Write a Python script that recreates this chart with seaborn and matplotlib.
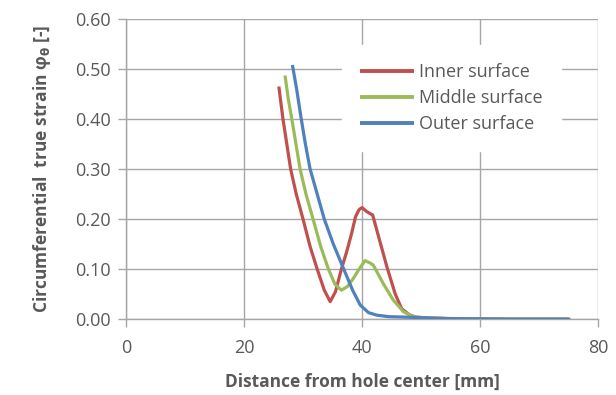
import matplotlib
matplotlib.use("Agg")
import matplotlib.pyplot as plt
import seaborn as sns
import pandas as pd

# Circumferential true strain along the radial distance from the hole centre
inner_x = [25.9, 26.6, 27.9, 28.85, 30.0, 31.2, 32.4, 33.6, 34.6, 35.5, 36.5, 37.4, 38.2,
           38.9, 39.5, 40.0, 40.8, 41.8, 42.8, 44.2, 45.6, 46.7, 48.1, 49.2, 52.0, 55.0,
           60.0, 65.0, 70.0, 75.0]
inner_y = [0.465, 0.400, 0.300, 0.250, 0.200, 0.145, 0.100, 0.058, 0.035, 0.055, 0.100, 0.135,
           0.170, 0.205, 0.219, 0.223, 0.215, 0.208, 0.165, 0.105, 0.051, 0.021, 0.008, 0.004,
           0.002, 0.001, 0.0005, 0.0, 0.0, 0.0]

middle_x = [26.95, 27.5, 28.1, 29.5, 30.5, 31.7, 33.0, 34.3, 35.4, 36.5, 37.5, 38.5, 39.5,
            40.5, 41.4, 41.9, 43.6, 45.3, 47.0, 48.7, 51.0, 55.0, 60.0, 65.0, 70.0, 75.0]
middle_y = [0.487, 0.440, 0.400, 0.300, 0.250, 0.200, 0.145, 0.100, 0.070, 0.058, 0.065, 0.081,
            0.100, 0.117, 0.112, 0.108, 0.071, 0.038, 0.015, 0.005, 0.002, 0.001, 0.0005, 0.0,
            0.0, 0.0]

outer_x = [28.2, 28.9, 29.7, 30.4, 31.2, 32.4, 33.6, 35.1, 36.9, 38.4, 39.7, 41.1, 42.5,
           44.5, 47.5, 52.0, 56.0, 60.0, 65.0, 70.0, 75.3]
outer_y = [0.508, 0.461, 0.400, 0.350, 0.300, 0.250, 0.200, 0.151, 0.100, 0.058, 0.028, 0.013,
           0.008, 0.005, 0.004, 0.002, 0.001, 0.0005, 0.0, 0.0, 0.0]

series_names = ["Inner surface", "Middle surface", "Outer surface"]
series_colors = ["#C0504D", "#9BBB59", "#4F81BD"]

x_ticks = [0, 20, 40, 60, 80]
y_ticks = [0.0, 0.1, 0.2, 0.3, 0.4, 0.5, 0.6]

frames = []
for name, xs, ys in zip(series_names, [inner_x, middle_x, outer_x], [inner_y, middle_y, outer_y]):
    frames.append(pd.DataFrame({"distance": xs, "strain": ys, "surface": name}))
df = pd.concat(frames, ignore_index=True)

sns.set_style("white")
plt.rcParams["font.family"] = ["Open Sans", "DejaVu Sans"]
plt.rcParams["mathtext.fontset"] = "dejavusans"

text_gray = "#595959"
grid_gray = "#A6A6A6"

fig = plt.figure(figsize=(6.16, 3.95), dpi=100)
ax = fig.add_axes([0.2045, 0.192, 0.7665, 0.760])

sns.lineplot(data=df, x="distance", y="strain", hue="surface", hue_order=series_names,
             palette=series_colors, sort=False, estimator=None, linewidth=2.3, ax=ax,
             solid_capstyle="butt", solid_joinstyle="round", zorder=3)

ax.set_xlim(0, 80)
ax.set_ylim(0, 0.6)
ax.set_xticks(x_ticks)
ax.set_yticks(y_ticks)
ax.set_xticklabels([f"{t:d}" for t in x_ticks])
ax.set_yticklabels([f"{t:.2f}" for t in y_ticks])

ax.grid(True, color=grid_gray, linewidth=1.0, zorder=0)
ax.set_axisbelow(True)
for side in ["top", "right"]:
    ax.spines[side].set_visible(False)
for side in ["left", "bottom"]:
    ax.spines[side].set_color(grid_gray)
    ax.spines[side].set_linewidth(1.0)

ax.tick_params(axis="both", which="major", direction="out", length=6, width=1.0,
               color=grid_gray, labelcolor=text_gray, labelsize=13)
ax.tick_params(axis="x", bottom=True, pad=8)
ax.tick_params(axis="y", left=True, pad=5)

ax.set_xlabel("Distance from hole center [mm]", fontsize=12.5, fontweight="bold",
              color=text_gray, labelpad=12)
ax.set_ylabel(r"Circumferential  true strain φ$_\mathbf{\theta}$ [-]", fontsize=12.5,
              fontweight="bold", color=text_gray, labelpad=16)

leg = ax.legend(loc="upper left", bbox_to_anchor=(0.4576, 0.914), frameon=True,
                fontsize=13, handlelength=3.0, handletextpad=0.28, labelspacing=0.45,
                borderpad=1.0, borderaxespad=0.0, fancybox=False)
leg.get_frame().set_facecolor("white")
leg.get_frame().set_edgecolor("white")
leg.get_frame().set_alpha(1.0)
for text in leg.get_texts():
    text.set_color(text_gray)
for line in leg.get_lines():
    line.set_linewidth(2.8)

fig.savefig("out.png", dpi=100, facecolor="white")
